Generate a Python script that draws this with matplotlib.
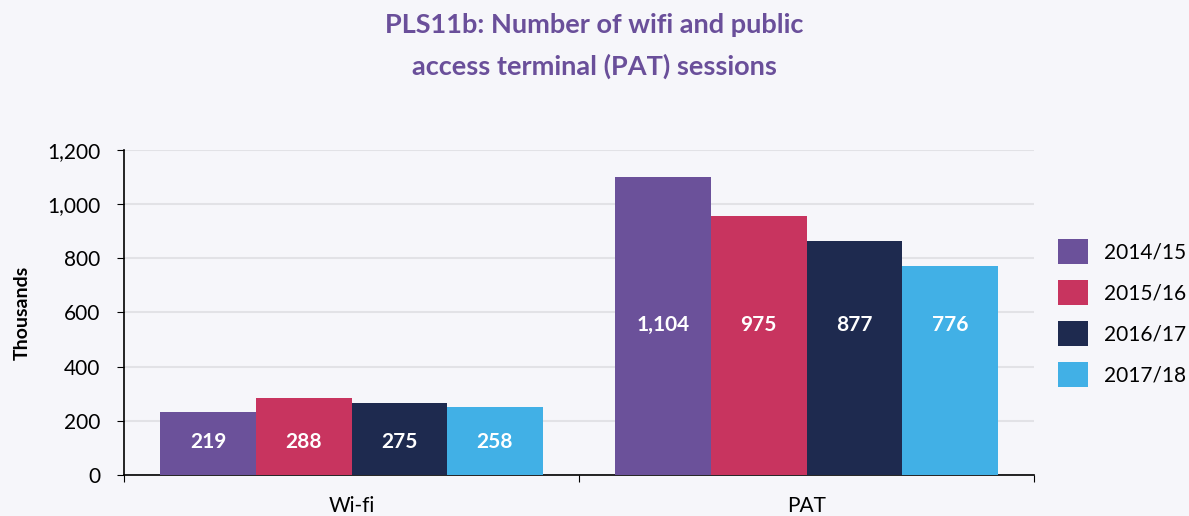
import numpy as np
import matplotlib.pyplot as plt
from matplotlib.patches import Patch

# === Data ===
categories = ["Wi-fi", "PAT"]
years = ["2014/15", "2015/16", "2016/17", "2017/18"]
# bar heights as drawn (thousands)
heights = {
    "2014/15": [232, 1099],
    "2015/16": [284, 955],
    "2016/17": [266, 863],
    "2017/18": [251, 771],
}
# printed labels on the bars
labels = {
    "2014/15": ["219", "1,104"],
    "2015/16": ["288", "975"],
    "2016/17": ["275", "877"],
    "2017/18": ["258", "776"],
}
colors = ["#6B519A", "#C8345F", "#1E2A4F", "#41B0E6"]

bg = "#F6F6FA"
font = "Lato"

fig = plt.figure(figsize=(11.89, 5.16), dpi=100, facecolor=bg)
ax = fig.add_axes([0.1043, 0.0795, 0.7654, 0.6298], facecolor=bg)

x = np.arange(len(categories))
width = 0.21
offsets = (np.arange(len(years)) - 1.5) * width

# label height: middle of the first bar in each group
label_y = [h / 2 + 5 for h in heights[years[0]]]

for i, yr in enumerate(years):
    ax.bar(x + offsets[i], heights[yr], width, color=colors[i], zorder=3)
    for j in range(len(categories)):
        ax.text(x[j] + offsets[i], label_y[j], labels[yr][j], ha="center", va="center",
                color="white", fontsize=15, fontweight="bold", family=font, zorder=4)

ax.set_xlim(-0.5, 1.5)
ax.set_ylim(0, 1200)
ax.set_yticks(range(0, 1201, 200))
ax.set_yticklabels([f"{v:,}" for v in range(0, 1201, 200)], family=font, fontsize=15)
ax.yaxis.grid(True, color="#E2E2E6", linewidth=1.5, zorder=0)

ax.set_xticks([-0.5, 0.5, 1.5])
ax.set_xticklabels([])
ax.set_xticks(x, minor=True)
ax.set_xticklabels(categories, minor=True, family=font, fontsize=15)
ax.tick_params(axis="x", which="minor", length=0, pad=15)
ax.tick_params(axis="x", which="major", length=5, color="black")
ax.tick_params(axis="y", length=5, color="black", pad=12)

for s in ["top", "right"]:
    ax.spines[s].set_visible(False)
for s in ["left", "bottom"]:
    ax.spines[s].set_color("black")
    ax.spines[s].set_linewidth(1.2)

ax.set_ylabel("Thousands", family=font, fontsize=14, fontweight="bold", labelpad=12)

fig.suptitle("PLS11b: Number of wifi and public\naccess terminal (PAT) sessions",
             x=0.5, y=0.975, color="#6A4F9A", fontsize=19.5, fontweight="bold",
             family=font, linespacing=1.8)

handles = [Patch(facecolor=c, label=yr) for c, yr in zip(colors, years)]
fig.legend(handles=handles, loc="center left", bbox_to_anchor=(0.883, 0.393),
           frameon=False, prop={"family": font, "size": 15}, borderaxespad=0,
           handlelength=1.45, handleheight=1.5, labelspacing=0.75, handletextpad=0.75)

fig.savefig("out.png", dpi=100, facecolor=bg)
